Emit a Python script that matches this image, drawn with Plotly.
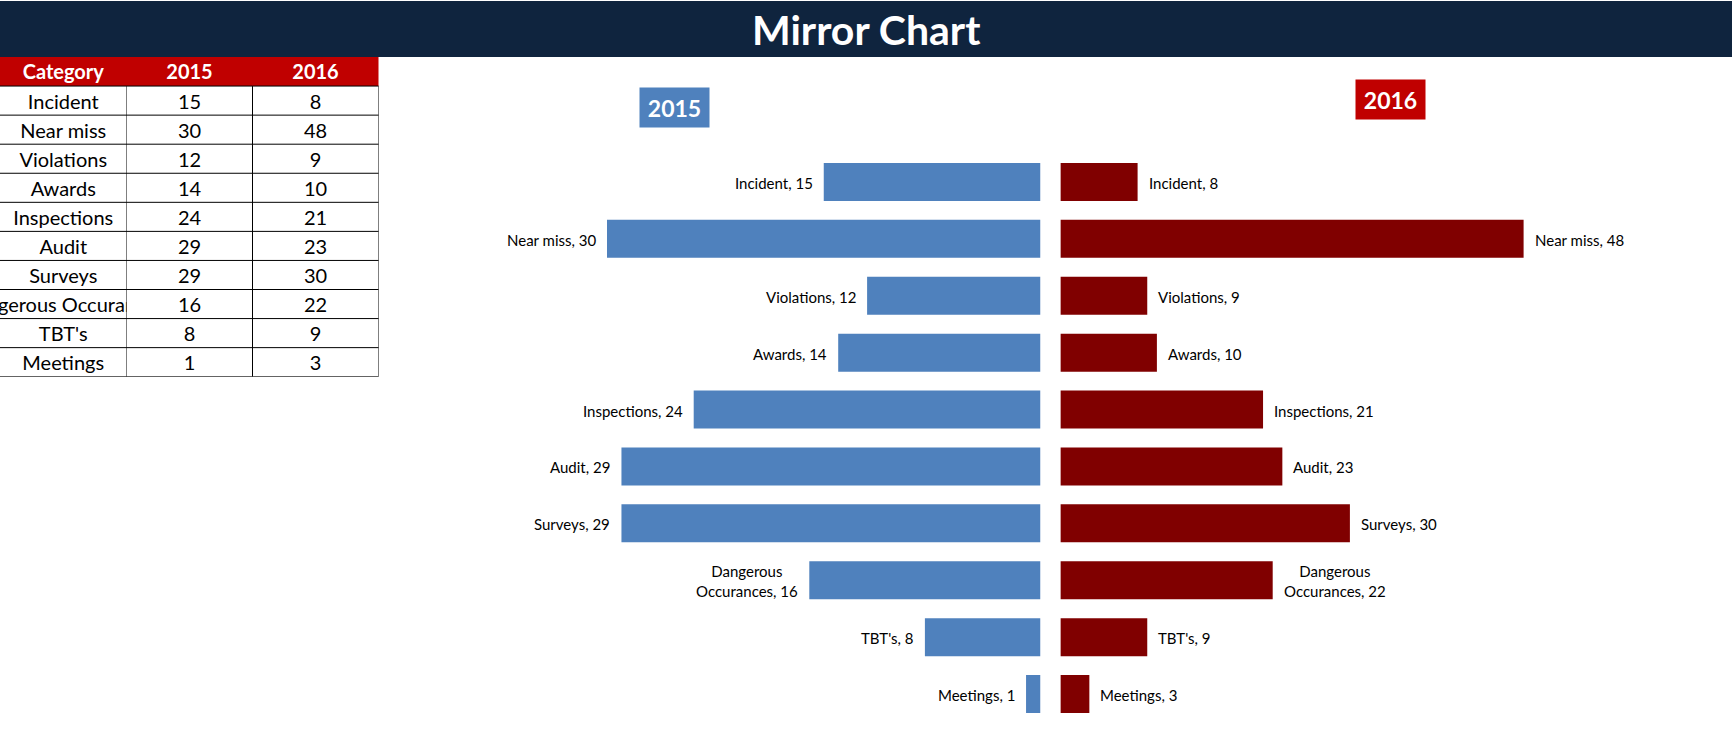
import plotly.graph_objects as go

categories = ["Incident", "Near miss", "Violations", "Awards", "Inspections",
              "Audit", "Surveys", "Dangerous Occurances", "TBT's", "Meetings"]
label_names = ["Incident", "Near miss", "Violations", "Awards", "Inspections",
               "Audit", "Surveys", "Dangerous<br>Occurances", "TBT's", "Meetings"]
values_2015 = [15, 30, 12, 14, 24, 29, 29, 16, 8, 1]
values_2016 = [8, 48, 9, 10, 21, 23, 30, 22, 9, 3]
years = ["2015", "2016"]
header = ["Category", "2015", "2016"]
title_text = "Mirror Chart"

W, H = 1732, 755
BLUE = "#4F81BD"
MAROON = "#800000"
RED = "#C00000"
NAVY = "#0F243E"
FONT = "Lato"

def px_x(p):
    return p / W

def px_y(p):
    return 1 - p / H

fig = go.Figure()

# Mirror bars
fig.add_trace(go.Bar(y=categories, x=values_2015, orientation="h", name=years[0],
                     marker=dict(color=BLUE, line=dict(width=0)),
                     xaxis="x", yaxis="y", hoverinfo="x+y"))
fig.add_trace(go.Bar(y=categories, x=values_2016, orientation="h", name=years[1],
                     marker=dict(color=MAROON, line=dict(width=0)),
                     xaxis="x2", yaxis="y", hoverinfo="x+y"))

annotations = []
for cat, name, v in zip(categories, label_names, values_2015):
    annotations.append(dict(x=v, y=cat, xref="x", yref="y",
                            text=f"{name}, {v}", showarrow=False, xanchor="right",
                            yanchor="middle", xshift=-9, yshift=-1, align="center",
                            font=dict(family=FONT, size=15, color="#000000")))
for cat, name, v in zip(categories, label_names, values_2016):
    annotations.append(dict(x=v, y=cat, xref="x2", yref="y",
                            text=f"{name}, {v}", showarrow=False, xanchor="left",
                            yanchor="middle", xshift=9, yshift=-1, align="center",
                            font=dict(family=FONT, size=15, color="#000000")))

# Year boxes
annotations.append(dict(x=px_x(674.5), y=px_y(108), xref="paper", yref="paper",
                        text=f"<b>{years[0]}</b>", showarrow=False, xanchor="center",
                        yanchor="middle", bgcolor=BLUE, width=69, height=39, borderpad=0,
                        font=dict(family=FONT, size=23, color="white")))
annotations.append(dict(x=px_x(1390.5), y=px_y(99.5), xref="paper", yref="paper",
                        text=f"<b>{years[1]}</b>", showarrow=False, xanchor="center",
                        yanchor="middle", bgcolor=RED, width=69, height=39, borderpad=0,
                        font=dict(family=FONT, size=23, color="white")))

# Title
annotations.append(dict(x=0.5, y=px_y(30), xref="paper", yref="paper",
                        text=f"<b>{title_text}</b>", showarrow=False, xanchor="center",
                        yanchor="middle", font=dict(family=FONT, size=41, color="white")))

# Table text (clipped to the cell columns)
rows = list(range(len(categories) + 1))
text_y = [r + 0.1 for r in rows]
fig.add_trace(go.Scatter(x=[0.5] * len(rows), y=text_y, mode="text",
                         text=[f"<b>{header[0]}</b>"] + categories,
                         textfont=dict(family=FONT, size=20,
                                       color=["white"] + ["black"] * len(categories)),
                         xaxis="x3", yaxis="y3", cliponaxis=True, hoverinfo="skip",
                         showlegend=False))
fig.add_trace(go.Scatter(x=[0.5] * len(rows), y=text_y, mode="text",
                         text=[f"<b>{header[1]}</b>"] + [str(v) for v in values_2015],
                         textfont=dict(family=FONT, size=20,
                                       color=["white"] + ["black"] * len(categories)),
                         xaxis="x4", yaxis="y3", cliponaxis=True, hoverinfo="skip",
                         showlegend=False))
fig.add_trace(go.Scatter(x=[1.5] * len(rows), y=text_y, mode="text",
                         text=[f"<b>{header[2]}</b>"] + [str(v) for v in values_2016],
                         textfont=dict(family=FONT, size=20,
                                       color=["white"] + ["black"] * len(categories)),
                         xaxis="x4", yaxis="y3", cliponaxis=True, hoverinfo="skip",
                         showlegend=False))

shapes = []
# Title bar
shapes.append(dict(type="rect", xref="paper", yref="paper", x0=0, x1=1,
                   y0=px_y(57), y1=px_y(1), fillcolor=NAVY, line=dict(width=0), layer="below"))
# Table header background
table_right = px_x(378.5)
shapes.append(dict(type="rect", xref="paper", yref="y3", x0=0, x1=table_right,
                   y0=-0.5, y1=0.5, fillcolor=RED, line=dict(width=0), layer="below"))
# Table horizontal borders
n = len(categories)
for i in range(n + 1):
    shapes.append(dict(type="line", xref="paper", yref="y3", x0=0, x1=table_right,
                       y0=i + 0.5, y1=i + 0.5, line=dict(color="black", width=1)))
# Table vertical borders
for c in range(3):
    shapes.append(dict(type="line", xref="x4", yref="y3", x0=c, x1=c,
                       y0=0.5, y1=n + 0.5, line=dict(color="black", width=1)))

hidden = dict(visible=False, showgrid=False, zeroline=False, fixedrange=True)

y_dom = [px_y(722.5), px_y(153.5)]
fig.update_layout(
    width=W, height=H,
    margin=dict(l=0, r=0, t=0, b=0),
    paper_bgcolor="white", plot_bgcolor="white",
    showlegend=False,
    barmode="overlay",
    bargap=0.332,
    xaxis=dict(domain=[px_x(1040.5 - 35 * 14.45), px_x(1040.5)], range=[35, 0],
               anchor="y", **hidden),
    xaxis2=dict(domain=[px_x(1060.4), px_x(1060.4 + 50 * 9.65)], range=[0, 50],
                anchor="y", **hidden),
    yaxis=dict(domain=y_dom, type="category", categoryorder="array",
               categoryarray=categories, range=[len(categories) - 0.5, -0.5],
               anchor="x", **hidden),
    xaxis3=dict(domain=[0, px_x(126.5)], range=[0, 1], anchor="y3", **hidden),
    xaxis4=dict(domain=[px_x(126.5), table_right], range=[0, 2], anchor="y3", **hidden),
    yaxis3=dict(domain=[px_y(376.7), px_y(57)], range=[n + 0.5, -0.5], anchor="x3", **hidden),
    annotations=annotations,
    shapes=shapes,
)

fig.write_html("out.html", config={"displayModeBar": False},
               post_script="document.body.style.margin='0';document.body.style.overflow='hidden';")
